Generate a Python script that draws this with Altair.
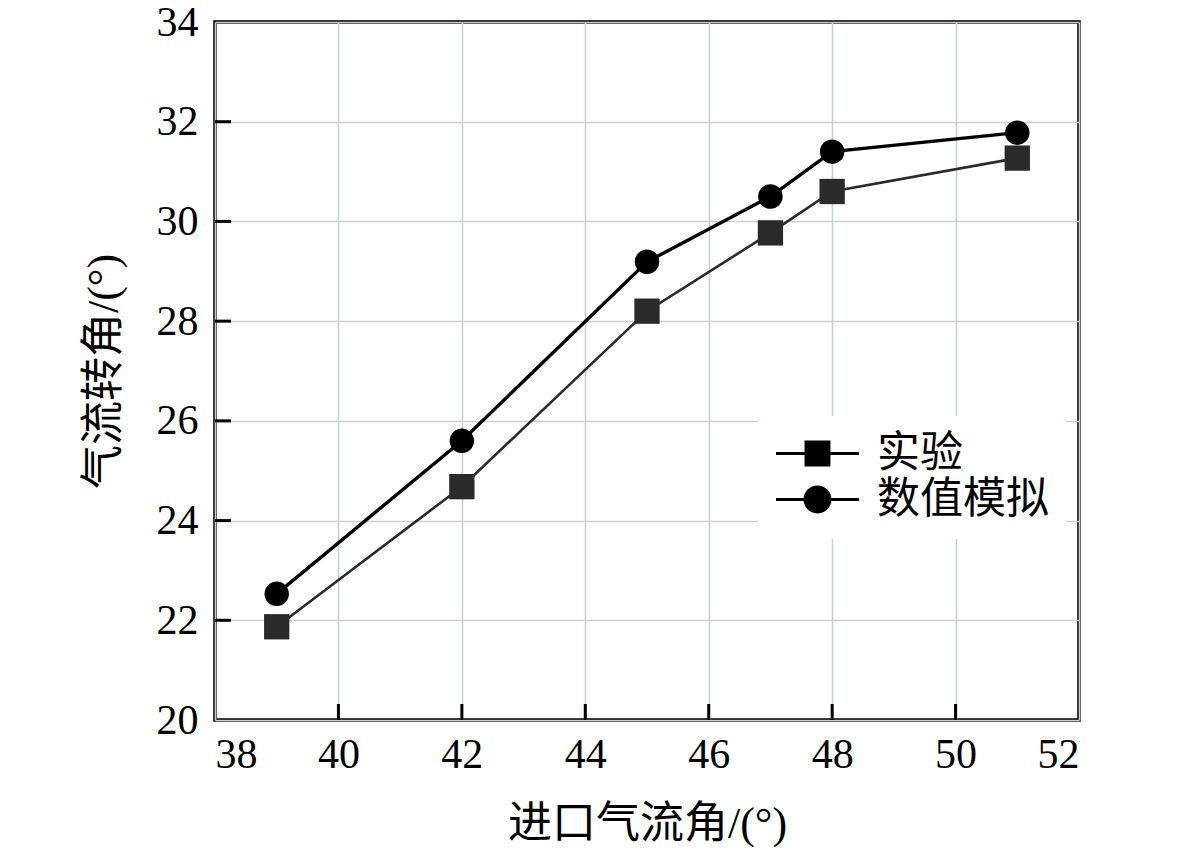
import altair as alt
import pandas as pd

inlet_angle = [39, 42, 45, 47, 48, 51]
exp_turn = [21.87, 24.68, 28.2, 29.77, 30.6, 31.27]
sim_turn = [22.53, 25.6, 29.19, 30.5, 31.4, 31.78]
series_names = ["实验", "数值模拟"]
x_ticks = [38, 40, 42, 44, 46, 48, 50, 52]
y_ticks = [20, 22, 24, 26, 28, 30, 32, 34]
x_inner_ticks = [40, 42, 44, 46, 48, 50]
y_inner_ticks = [22, 24, 26, 28, 30, 32]

rows = []
for xv, yv in zip(inlet_angle, exp_turn):
    rows.append({"x": xv, "y": yv, "s": series_names[0]})
for xv, yv in zip(inlet_angle, sim_turn):
    rows.append({"x": xv, "y": yv, "s": series_names[1]})
df = pd.DataFrame(rows)

FONT = "Liberation Serif, Noto Sans CJK SC"
W, H = 864, 698

xscale = alt.Scale(domain=[38, 52], nice=False, zero=False)
yscale = alt.Scale(domain=[20, 34], nice=False, zero=False)

xenc = alt.X("x:Q", scale=xscale, axis=alt.Axis(
    values=x_ticks, format="d", title="进口气流角/(°)", ticks=False, domain=False,
    grid=True, gridColor="#c8d2d2", gridWidth=1.6,
    labelFont=FONT, labelFontSize=42, labelColor="black", labelPadding=14,
    titleFont=FONT, titleFontSize=44, titleFontWeight="normal", titleColor="black",
    titleY=117, titleBaseline="alphabetic"))
yenc = alt.Y("y:Q", scale=yscale, axis=alt.Axis(
    values=y_ticks, format="d", title="气流转角/(°)", ticks=False, domain=False,
    grid=True, gridColor="#c8d2d2", gridWidth=1.6,
    labelFont=FONT, labelFontSize=42, labelColor="black", labelPadding=17,
    titleFont=FONT, titleFontSize=44, titleFontWeight="normal", titleColor="black",
    titleX=-111, titleBaseline="middle", titleAngle=-90))

col = alt.Color("s:N", scale=alt.Scale(domain=series_names, range=["#2a2a2a", "#000000"]), legend=None)

lines = alt.Chart(df).mark_line().encode(
    x=xenc, y=yenc, color=col,
    strokeWidth=alt.StrokeWidth("s:N", scale=alt.Scale(domain=series_names, range=[2.6, 3.4]), legend=None),
    detail="s:N")

points = alt.Chart(df).mark_point(filled=True, opacity=1).encode(
    x="x:Q", y="y:Q", color=col,
    shape=alt.Shape("s:N", scale=alt.Scale(domain=series_names, range=["square", "circle"]), legend=None),
    size=alt.Size("s:N", scale=alt.Scale(domain=series_names, range=[640, 600]), legend=None))

sq_path = "M-2.37,-0.09H2.37V0.09H-2.37Z M-0.74,-0.74H0.74V0.74H-0.74Z"
ci_path = "M-2.37,-0.09H2.37V0.09H-2.37Z M-0.8,0A0.8,0.8 0 1,1 0.8,0A0.8,0.8 0 1,1 -0.8,0Z"

legend_layer = alt.Chart(df).mark_point(filled=True, opacity=0, color="black").encode(
    x="x:Q", y="y:Q",
    shape=alt.Shape("s:N", scale=alt.Scale(domain=series_names, range=[sq_path, ci_path]),
                    legend=alt.Legend(title=None, orient="none", legendX=543, legendY=394,
                                      symbolSize=1225, symbolFillColor="black",
                                      symbolStrokeWidth=0, symbolOpacity=1,
                                      labelFont=FONT, labelFontSize=43, labelColor="black",
                                      labelOffset=38, symbolOffset=22, rowPadding=2,
                                      padding=16, fillColor="white", strokeColor="white",
                                      labelLimit=400)))

xt = pd.DataFrame({"v": x_inner_ticks})
yt = pd.DataFrame({"v": y_inner_ticks})
xtick_layer = alt.Chart(xt).mark_rule(color="black", strokeWidth=3).encode(
    x=alt.X("v:Q", scale=xscale), y=alt.value(H), y2=alt.value(H - 16))
ytick_layer = alt.Chart(yt).mark_rule(color="black", strokeWidth=3).encode(
    y=alt.Y("v:Q", scale=yscale), x=alt.value(0), x2=alt.value(16))

chart = alt.layer(lines, points, legend_layer, xtick_layer, ytick_layer).resolve_scale(
    shape="independent"
).properties(
    width=W, height=H,
    autosize=alt.AutoSizeParams(type="none"),
    padding={"left": 207, "top": 14, "right": 80, "bottom": 127},
    background="white",
).configure_view(stroke="black", strokeWidth=3.5)

chart.save("out.html", embed_options={"renderer": "svg", "actions": False})
